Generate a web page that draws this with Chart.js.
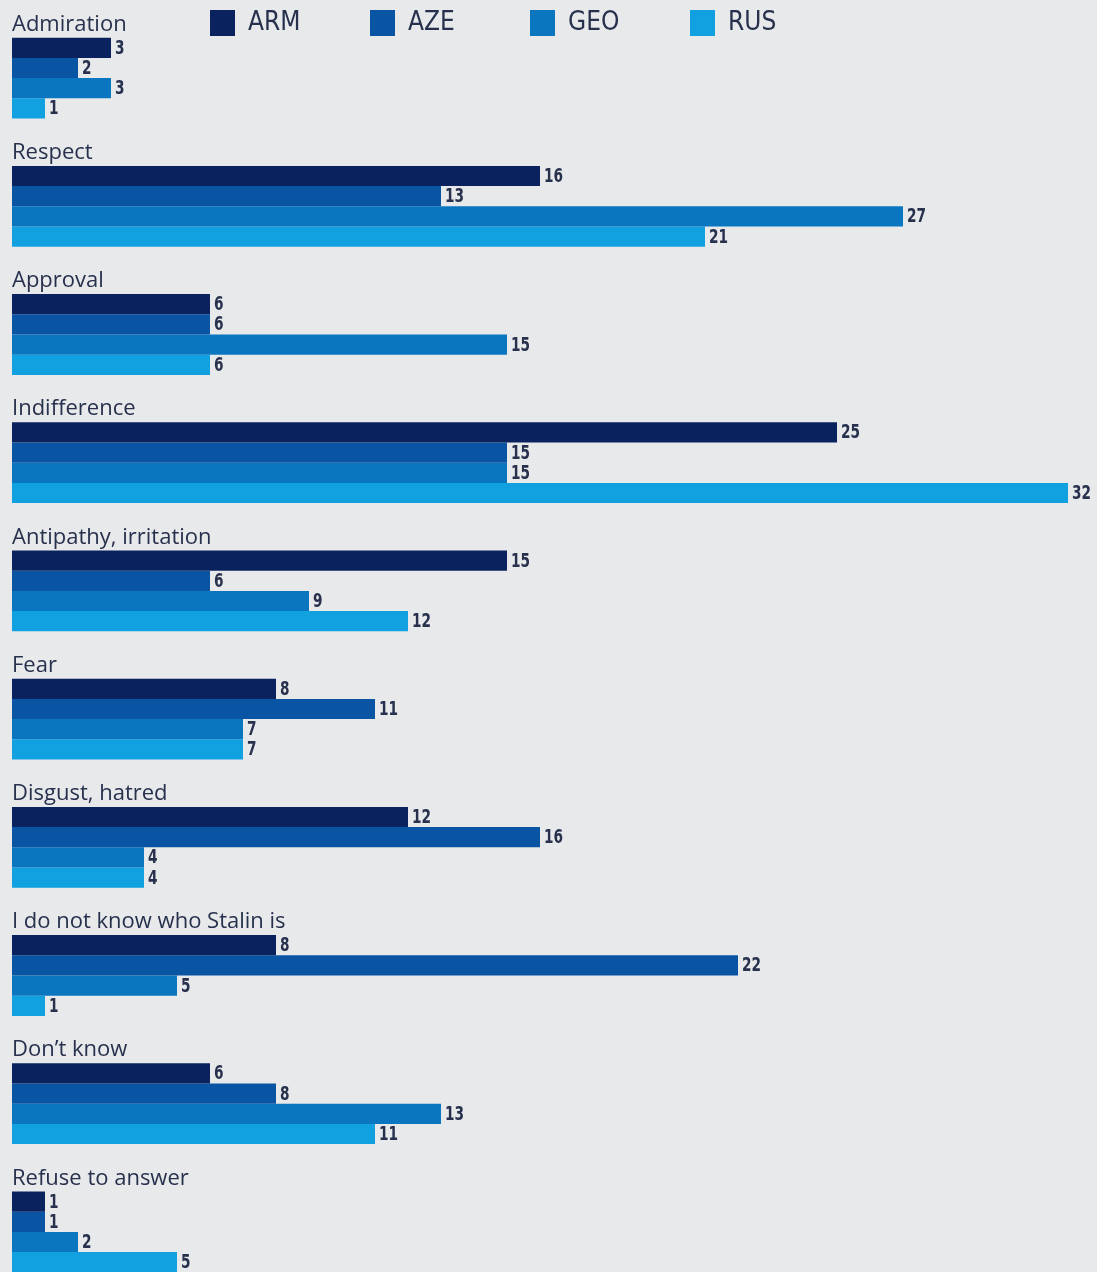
<!DOCTYPE html>
<html>
<head>
<meta charset="utf-8">
<script src="https://cdn.jsdelivr.net/npm/chart.js@4.4.1/dist/chart.umd.min.js"></script>
<style>
html,body{margin:0;padding:0;background:#e8e9eb;overflow:hidden;}
#wrap{position:relative;width:1097px;height:1300px;}
</style>
</head>
<body>
<div id="wrap"><canvas id="c"></canvas></div>
<script>
const categories = ["Admiration","Respect","Approval","Indifference","Antipathy, irritation","Fear","Disgust, hatred","I do not know who Stalin is","Don\u2019t know","Refuse to answer"];
const seriesNames = ["ARM","AZE","GEO","RUS"];
const ARM = [3,16,6,25,15,8,12,8,6,1];
const AZE = [2,13,6,15,6,11,16,22,8,1];
const GEO = [3,27,15,15,9,7,4,5,13,2];
const RUS = [1,21,6,32,12,7,4,1,11,5];
const seriesColors = ["#0a235e","#0a54a4","#0a76c0","#11a1e1"];

const TEXT_COLOR = "#27314d";
const LABEL_FONT = "22px 'Open Sans', 'Noto Sans', sans-serif";
const VALUE_FONT = "bold 19px 'Liberation Sans Narrow', 'DejaVu Sans Condensed', sans-serif";
const LEGEND_FONT = "26px 'Liberation Sans Narrow', 'DejaVu Sans Condensed', sans-serif";

const groupTitles = {
  id: 'groupTitles',
  afterDatasetsDraw(chart) {
    const ctx = chart.ctx;
    const meta = chart.getDatasetMeta(0);
    ctx.save();
    ctx.font = LABEL_FONT;
    ctx.fillStyle = TEXT_COLOR;
    ctx.textAlign = 'left';
    ctx.textBaseline = 'alphabetic';
    meta.data.forEach((el, i) => {
      const top = el.y - el.height / 2;
      ctx.fillText(chart.data.labels[i], chart.chartArea.left, top - 7);
    });
    ctx.restore();
  }
};

const valueLabels = {
  id: 'valueLabels',
  afterDatasetsDraw(chart) {
    const ctx = chart.ctx;
    chart.data.datasets.forEach((ds, di) => {
      const meta = chart.getDatasetMeta(di);
      meta.data.forEach((el, i) => {
        ctx.save();
        ctx.font = VALUE_FONT;
        ctx.fillStyle = TEXT_COLOR;
        ctx.textAlign = 'left';
        ctx.textBaseline = 'middle';
        ctx.translate(el.x + 4, el.y + 1);
        ctx.scale(0.8, 1);
        ctx.fillText(String(ds.data[i]), 0, 0);
        ctx.restore();
      });
    });
  }
};

const topLegend = {
  id: 'topLegend',
  afterDraw(chart) {
    const ctx = chart.ctx;
    ctx.save();
    ctx.font = LEGEND_FONT;
    ctx.textAlign = 'left';
    ctx.textBaseline = 'middle';
    chart.data.datasets.forEach((ds, i) => {
      const x = 210 + i * 160;
      const y = 10;
      ctx.fillStyle = ds.backgroundColor;
      ctx.fillRect(x, y, 25, 26);
      ctx.fillStyle = TEXT_COLOR;
      ctx.fillText(ds.label, x + 38, y + 13);
    });
    ctx.restore();
  }
};

const seriesData = [ARM, AZE, GEO, RUS];

new Chart(document.getElementById('c'), {
  type: 'bar',
  data: {
    labels: categories,
    datasets: seriesNames.map((name, i) => ({
      label: name,
      data: seriesData[i],
      backgroundColor: seriesColors[i],
      borderWidth: 0,
      categoryPercentage: 0.63,
      barPercentage: 1.0
    }))
  },
  options: {
    indexAxis: 'y',
    responsive: true,
    maintainAspectRatio: false,
    devicePixelRatio: 1,
    animation: false,
    layout: { padding: { left: 12, right: 12.5, top: 14, bottom: 4 } },
    scales: {
      x: { display: false, min: 0, max: 32.5, grid: { display: false } },
      y: { display: false, grid: { display: false } }
    },
    plugins: {
      legend: { display: false },
      tooltip: { enabled: false }
    }
  },
  plugins: [groupTitles, valueLabels, topLegend]
});
</script>
</body>
</html>
